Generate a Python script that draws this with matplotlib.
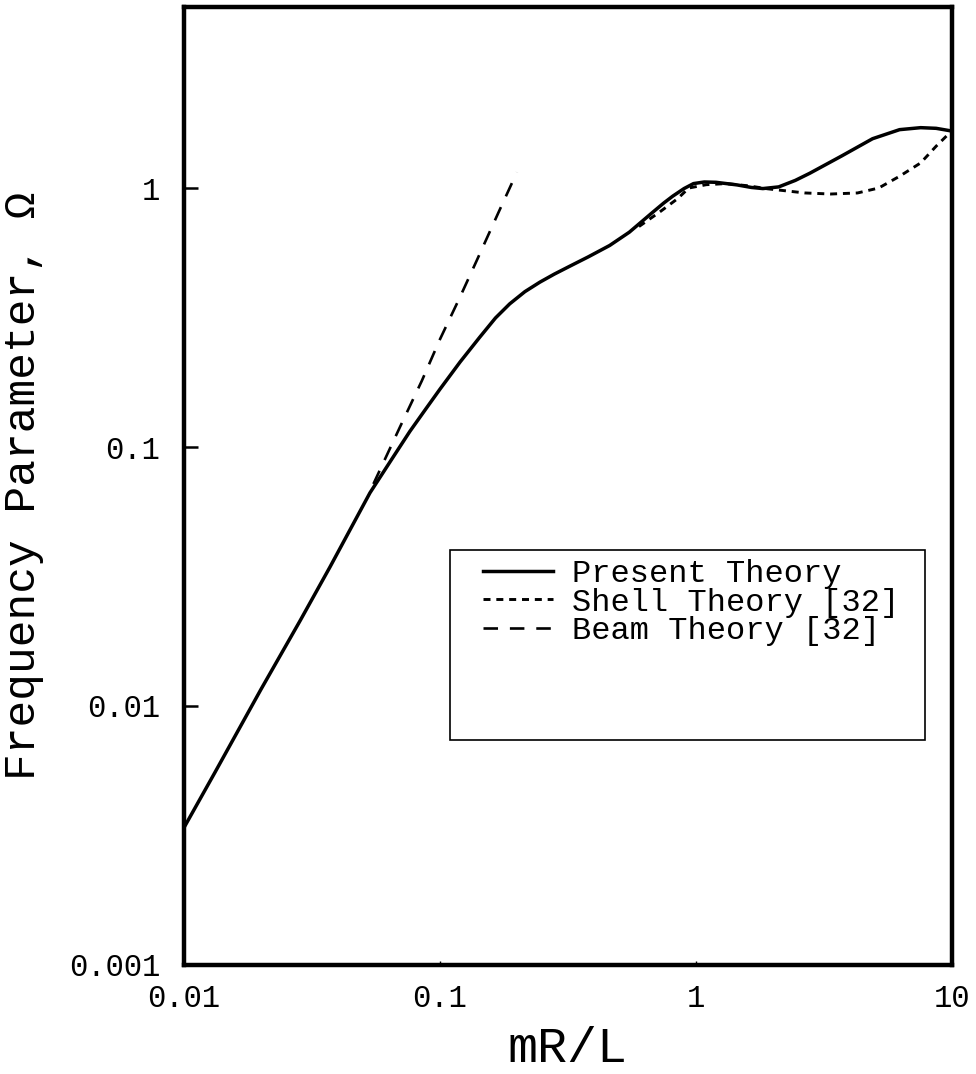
import matplotlib
matplotlib.use('Agg')
import matplotlib.pyplot as plt
from matplotlib.patches import Rectangle

plt.rcParams['font.family'] = ['Liberation Mono', 'DejaVu Sans Mono']

# Frecuencia adimensional frente a mR/L
present_x = [0.01, 0.0132, 0.02, 0.0284, 0.0372, 0.0533, 0.065, 0.0764, 0.088, 0.1,
             0.12, 0.143, 0.165, 0.1875, 0.215, 0.246, 0.28, 0.322, 0.38, 0.461,
             0.55, 0.673, 0.75, 0.813, 0.9, 0.98, 1.08, 1.2, 1.45, 1.65, 1.83,
             2.11, 2.45, 2.79, 3.72, 4.91, 6.26, 7.57, 8.7, 10]
present_y = [0.00339, 0.00553, 0.0116, 0.0213, 0.0344, 0.0665, 0.090, 0.115, 0.140, 0.167,
             0.213, 0.265, 0.315, 0.357, 0.398, 0.433, 0.465, 0.499, 0.542, 0.600,
             0.675, 0.800, 0.875, 0.930, 0.995, 1.040, 1.055, 1.052, 1.028, 1.005, 0.995,
             1.01, 1.07, 1.14, 1.33, 1.55, 1.68, 1.71, 1.70, 1.66]

shell_x = [0.6, 0.722, 0.85, 0.94, 1.1, 1.31, 1.6, 1.91, 2.67, 3.37, 4.29, 5.19,
           6.26, 7.57, 8.7, 10]
shell_y = [0.71, 0.807, 0.91, 1.0, 1.03, 1.04, 1.02, 0.993, 0.957, 0.948, 0.957, 1.0,
           1.11, 1.25, 1.45, 1.66]

beam_x = [0.055, 0.07, 0.085, 0.1, 0.12, 0.14, 0.17, 0.2]
beam_y = [0.072, 0.12, 0.18, 0.26, 0.38, 0.53, 0.81, 1.15]

x_ticks = [0.01, 0.1, 1, 10]
x_labels = ['0.01', '0.1', '1', '10']
y_ticks = [0.001, 0.01, 0.1, 1]
y_labels = ['0.001', '0.01', '0.1', '1']

fig = plt.figure(figsize=(9.76, 10.74), dpi=100)
ax = fig.add_axes([0.1885, 0.1015, 0.7865, 0.892])

ax.plot(present_x, present_y, color='black', lw=2.5, label='Present Theory')
ax.plot(shell_x, shell_y, color='black', lw=2.1, linestyle=(0, (2.4, 2.0)),
        label='Shell Theory [32]')
ax.plot(beam_x, beam_y, color='black', lw=1.9, linestyle=(0, (5.5, 4.5)),
        label='Beam Theory [32]')

ax.set_xscale('log')
ax.set_yscale('log')
ax.set_xlim(0.01, 10)
ax.set_ylim(0.001, 5)
ax.minorticks_off()
ax.set_xticks(x_ticks)
ax.set_xticklabels(x_labels)
ax.set_yticks(y_ticks)
ax.set_yticklabels(y_labels)
ax.tick_params(axis='y', direction='in', length=10, width=1.8, pad=17, labelsize=22)
ax.tick_params(axis='x', direction='in', length=3, width=1, pad=14, labelsize=22)

for s in ax.spines.values():
    s.set_linewidth(3.2)

ax.set_xlabel('mR/L', fontsize=36, labelpad=8)
ax.set_ylabel('Frequency Parameter, \u03a9', fontsize=32, labelpad=18)

# Caja de la leyenda
ax.add_patch(Rectangle((0.346, 0.235), 0.619, 0.198, transform=ax.transAxes,
                       fill=False, edgecolor='black', lw=1.2))
ax.legend(loc='upper left', bbox_to_anchor=(0.389, 0.424), frameon=False,
          fontsize=23, handlelength=2.2, handletextpad=0.6, labelspacing=-0.04,
          borderpad=0, borderaxespad=0)

fig.savefig('out.png', dpi=100)
